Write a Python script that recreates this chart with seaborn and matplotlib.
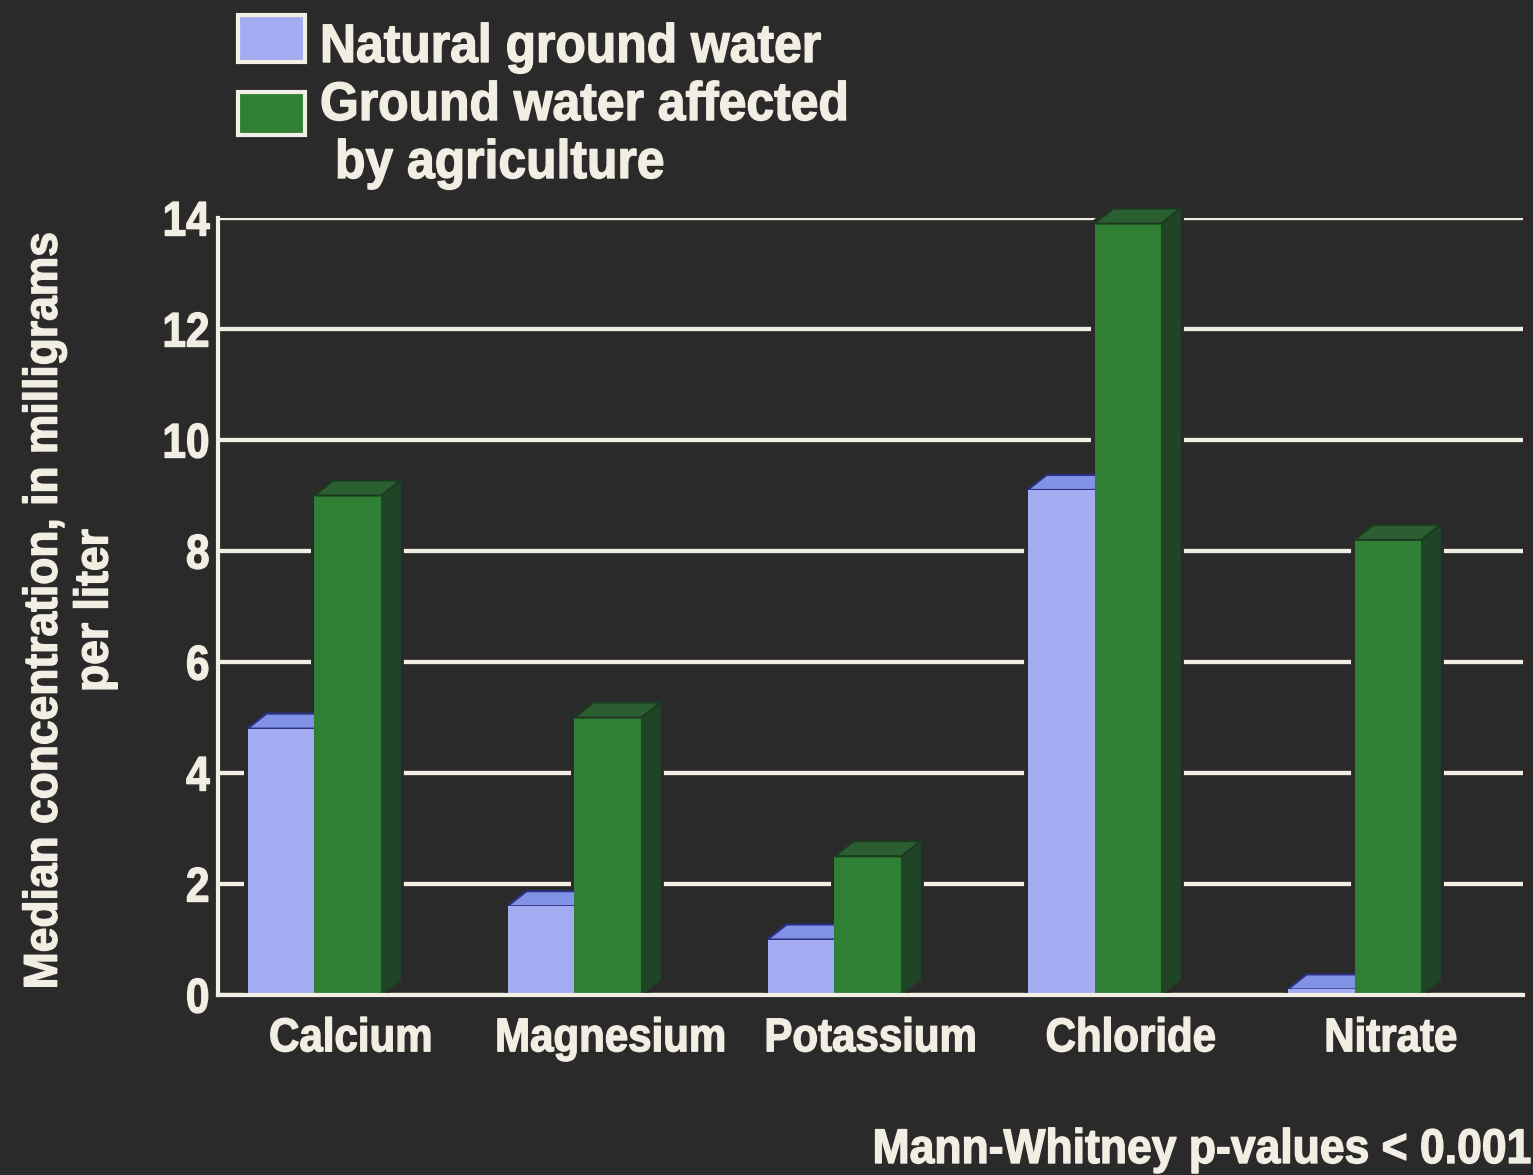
import matplotlib
matplotlib.use("Agg")
import matplotlib.pyplot as plt
from matplotlib import font_manager
from matplotlib.colors import to_hex
from matplotlib.patches import Polygon, Rectangle
from matplotlib.patheffects import AbstractPathEffect
from matplotlib.transforms import Affine2D
import pandas as pd
import seaborn as sns

# ---- data -------------------------------------------------------------
minerals = ["Calcium", "Magnesium", "Potassium", "Chloride", "Nitrate"]
natural = [4.8, 1.6, 1.0, 9.1, 0.1]
agriculture = [9.0, 5.0, 2.5, 13.9, 8.2]
series = ["Natural ground water", "Ground water affected by agriculture"]
y_ticks = [0, 2, 4, 6, 8, 10, 12, 14]

# ---- style ------------------------------------------------------------
BG = "#2a2a2a"
INK = "#f3eee4"
FRONT = ["#a3acf0", "#2f8034"]
TOP = ["#8292e4", "#2b5e30"]
SIDE = ["#6a76c8", "#1f4526"]
EDGE = ["#2b2f85", "#1c3a20"]

installed = {f.name for f in font_manager.fontManager.ttflist}
FONT = "Liberation Sans Narrow" if "Liberation Sans Narrow" in installed else "Liberation Sans"

sns.set_style("dark", {"axes.facecolor": BG, "figure.facecolor": BG})
plt.rcParams["font.family"] = [FONT, "DejaVu Sans"]
plt.rcParams["font.weight"] = "bold"


class Condensed(AbstractPathEffect):
    """Draw text squeezed along its own baseline, with a thin same-colour stroke."""

    def __init__(self, sx, anchor="left", stroke=1.0):
        super().__init__()
        self.sx = sx
        self.anchor = anchor
        self.stroke = stroke

    def draw_path(self, renderer, gc, tpath, affine, rgbFace=None):
        xs = tpath.vertices[:, 0]
        if len(xs) == 0:
            return
        lo, hi = xs.min(), xs.max()
        px = {"left": lo, "center": 0.5 * (lo + hi), "right": hi}[self.anchor]
        pre = Affine2D().translate(-px, 0).scale(self.sx, 1).translate(px, 0)
        gc0 = renderer.new_gc()
        gc0.copy_properties(gc)
        if rgbFace is not None and self.stroke > 0:
            gc0.set_foreground(rgbFace)
            gc0.set_linewidth(self.stroke)
            gc0.set_joinstyle("round")
        renderer.draw_path(gc0, tpath, pre + affine, rgbFace)
        gc0.restore()


df = pd.DataFrame({
    "mineral": minerals * 2,
    "source": [series[0]] * len(minerals) + [series[1]] * len(minerals),
    "value": natural + agriculture,
})

W, H = 1533, 1175
fig = plt.figure(figsize=(W / 100, H / 100), dpi=100)
fig.patch.set_facecolor(BG)
ax = fig.add_axes([218 / W, 1 - 995 / H, 1305 / W, 777 / H])
ax.set_facecolor(BG)

sns.barplot(data=df, x="mineral", y="value", hue="source", hue_order=series,
            palette=FRONT, width=0.515, gap=0, saturation=1, legend=False,
            linewidth=0, zorder=3, ax=ax)

ax.set_xlim(-0.371, 4.648)
ax.set_ylim(0, 14)

# ---- pseudo-3D faces built from the seaborn bars --------------------------
DX = 19 / 260      # depth offset in x data units
DY = 15 / 55.5     # depth offset in y data units
front_hex = [to_hex(c) for c in FRONT]
for p in list(ax.patches):
    k = front_hex.index(to_hex(p.get_facecolor()))
    x0, w, h = p.get_x(), p.get_width(), p.get_height()
    x1 = x0 + w
    shadow = Polygon([(x0, 0), (x0, h), (x0 + DX, h + DY), (x1 + DX, h + DY),
                      (x1 + DX, DY), (x1, 0)], closed=True,
                     facecolor=BG, edgecolor=BG, lw=5, zorder=1.5, clip_on=False)
    top = Polygon([(x0, h), (x0 + DX, h + DY), (x1 + DX, h + DY), (x1, h)], closed=True,
                  facecolor=TOP[k], edgecolor=EDGE[k], lw=1.5,
                  zorder=2.5 if k == 0 else 3.2, clip_on=False)
    side = Polygon([(x1, 0), (x1, h), (x1 + DX, h + DY), (x1 + DX, DY)], closed=True,
                   facecolor=SIDE[k], edgecolor=SIDE[k], lw=0.5,
                   zorder=2.5 if k == 0 else 3.2, clip_on=False)
    ax.add_patch(shadow)
    ax.add_patch(side)
    ax.add_patch(top)

# ---- axes, grid, ticks ----------------------------------------------------
ax.set_yticks(y_ticks)
ax.set_axisbelow(True)
ax.grid(False)
ax.yaxis.grid(True, color=INK, lw=3.1)
for s in ["top", "right"]:
    ax.spines[s].set_visible(False)
for s in ["left", "bottom"]:
    ax.spines[s].set_visible(True)
    ax.spines[s].set_color(INK)
    ax.spines[s].set_linewidth(3)
    ax.spines[s].set_zorder(5)

ax.set_xticks([i + 0.14 for i in range(len(minerals))])
ax.set_xticklabels(minerals)
ax.set_xticks([i + 0.648 for i in range(len(minerals))], minor=True)
ax.tick_params(axis="x", which="major", length=0, pad=16, labelsize=34, labelcolor=INK)
ax.tick_params(axis="x", which="minor", direction="in", length=9, width=3, color=INK)
ax.tick_params(axis="y", length=0, pad=6, labelsize=35, labelcolor=INK)
for t in ax.xaxis.get_major_ticks():
    t.label1.set_fontweight("bold")
    t.label1.set_path_effects([Condensed(0.89, "center")])
for t in ax.yaxis.get_major_ticks():
    t.label1.set_fontweight("bold")
    t.label1.set_path_effects([Condensed(0.87, "right")])

ax.set_xlabel("")
ax.set_ylabel("Median concentration, in milligrams\nper liter", fontsize=34,
              color=INK, fontweight="bold", linespacing=1.2,
              path_effects=[Condensed(0.94, "center")])
ax.yaxis.set_label_coords(-0.077, 0.495)

# ---- legend ---------------------------------------------------------------
for (y_top, y_bot), color in zip([(15, 62), (92, 135)], FRONT):
    fig.patches.append(Rectangle((238 / W, 1 - y_bot / H), 67 / W, (y_bot - y_top) / H,
                                 transform=fig.transFigure, facecolor=color,
                                 edgecolor=INK, lw=3))
legend_fx = [Condensed(0.92, "left")]
fig.text(320 / W, 1 - 62 / H, "Natural ground water", fontsize=39, color=INK,
         fontweight="bold", va="baseline", ha="left", path_effects=legend_fx)
fig.text(320 / W, 1 - 120 / H, "Ground water affected", fontsize=39, color=INK,
         fontweight="bold", va="baseline", ha="left", path_effects=legend_fx)
fig.text(335 / W, 1 - 178 / H, "by agriculture", fontsize=39, color=INK,
         fontweight="bold", va="baseline", ha="left", path_effects=legend_fx)

fig.text(1531 / W, 1 - 1163 / H, "Mann-Whitney p-values < 0.001", fontsize=35,
         color=INK, fontweight="bold", va="baseline", ha="right",
         path_effects=[Condensed(0.915, "right")])

fig.savefig("out.png", dpi=100, facecolor=BG)
